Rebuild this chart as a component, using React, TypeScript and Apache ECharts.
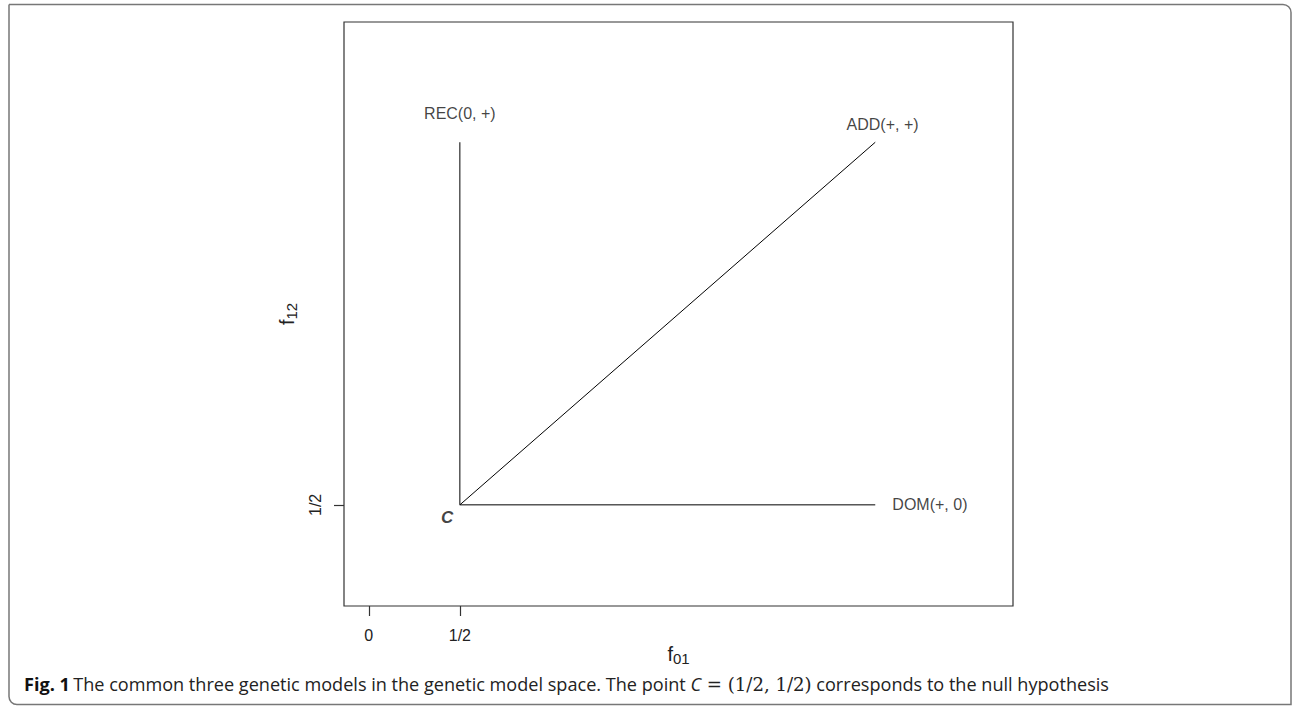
import React, { useEffect, useRef } from "react";
import * as echarts from "echarts";

const modelNames = ["REC(0, +)", "ADD(+, +)", "DOM(+, 0)"];
const nullPoint = [0.5, 0.5];
const modelEnds = [
  [0.5, 2.78],
  [2.78, 2.78],
  [2.78, 0.5],
];
const modelLabelPos = [
  [0.5, 2.96],
  [2.82, 2.89],
  [3.08, 0.5],
];
const nullLabel = "C";
const nullLabelPos = [0.43, 0.42];
const xTickValues = [0, 0.5];
const xTickLabels = ["0", "1/2"];
const yTickValues = [0.5];
const yTickLabels = ["1/2"];
const axisMin = -0.136;
const axisMax = 3.536;

export default function App() {
  const ref = useRef<HTMLDivElement>(null);
  useEffect(() => {
    if (!ref.current) return;
    const chart = echarts.init(ref.current, null, { renderer: "svg" });
    const fmt = (vals: number[], labs: string[]) => (v: number) => {
      const i = vals.findIndex((x) => Math.abs(x - v) < 1e-9);
      return i >= 0 ? labs[i] : "";
    };
    const lineSeries = modelEnds.map((e, i) => ({
      type: "line",
      name: modelNames[i],
      data: [nullPoint, e],
      symbol: "none",
      lineStyle: { color: "#000", width: 1 },
      silent: true,
    }));
    const nameRich = {
      f: { fontSize: 20, fontFamily: "Liberation Sans", color: "#222" },
      s: {
        fontSize: 15,
        fontFamily: "Liberation Sans",
        color: "#222",
        verticalAlign: "bottom",
        padding: [9, 0, 0, 0],
      },
    };
    const option = {
      animation: false,
      backgroundColor: "#fff",
      grid: {
        left: 344,
        top: 22,
        width: 669,
        height: 584,
        show: true,
        borderColor: "#333",
        borderWidth: 1.2,
        backgroundColor: "transparent",
      },
      xAxis: {
        type: "value",
        min: axisMin,
        max: axisMax,
        splitLine: { show: false },
        axisLine: { show: false, onZero: false },
        axisTick: {
          show: true,
          length: 10,
          customValues: xTickValues,
          lineStyle: { color: "#333", width: 1.2 },
        },
        axisLabel: {
          customValues: xTickValues,
          formatter: fmt(xTickValues, xTickLabels),
          margin: 21,
          color: "#222",
          fontSize: 16,
          fontFamily: "Liberation Sans",
        },
        name: "{f|f}{s|01}",
        nameLocation: "middle",
        nameGap: 36,
        nameMoveOverlap: false,
        nameTextStyle: { rich: nameRich },
      },
      yAxis: {
        type: "value",
        min: axisMin,
        max: axisMax,
        splitLine: { show: false },
        axisLine: { show: false, onZero: false },
        axisTick: {
          show: true,
          length: 10,
          customValues: yTickValues,
          lineStyle: { color: "#333", width: 1.2 },
        },
        axisLabel: {
          customValues: yTickValues,
          formatter: fmt(yTickValues, yTickLabels),
          margin: 21,
          rotate: 90,
          color: "#222",
          fontSize: 16,
          fontFamily: "Liberation Sans",
        },
        name: "{f|f}{s|12}",
        nameLocation: "middle",
        nameGap: 42,
        nameRotate: 90,
        nameTextStyle: { rich: nameRich },
      },
      series: [
        ...lineSeries,
        {
          type: "scatter",
          symbolSize: 1,
          itemStyle: { color: "rgba(0,0,0,0)" },
          silent: true,
          label: {
            show: true,
            position: "inside",
            formatter: "{b}",
            color: "#111",
            fontSize: 16,
            fontFamily: "Liberation Sans",
          },
          data: modelLabelPos.map((p, i) => ({ name: modelNames[i], value: p })),
        },
        {
          type: "scatter",
          symbolSize: 1,
          itemStyle: { color: "rgba(0,0,0,0)" },
          silent: true,
          label: {
            show: true,
            position: "inside",
            formatter: "{b}",
            color: "#111",
            fontSize: 17,
            fontWeight: "bold",
            fontStyle: "italic",
            fontFamily: "Liberation Sans",
          },
          data: [{ name: nullLabel, value: nullLabelPos }],
        },
      ],
      graphic: [
        {
          type: "rect",
          shape: { x: 9, y: 4.5, width: 1282, height: 700, r: [0, 8, 0, 8] },
          style: { fill: "none", stroke: "#777", lineWidth: 1.5 },
          silent: true,
        },
        {
          type: "text",
          left: 24,
          top: 675,
          style: {
            text:
              "{b|Fig. 1} {n|The common three genetic models in the genetic model space. The point }{i|C}{m| = (1/2, 1/2)}{n| corresponds to the null hypothesis}",
            rich: {
              b: { fontFamily: "Open Sans", fontWeight: "bold", fontSize: 18.1, fill: "#111" },
              n: { fontFamily: "Open Sans", fontSize: 18.1, fill: "#222" },
              i: { fontFamily: "Open Sans", fontStyle: "italic", fontSize: 18.1, fill: "#222" },
              m: { fontFamily: "DejaVu Serif", fontSize: 18.1, fill: "#222" },
            },
          },
        },
      ],
    };
    chart.setOption(option as any);
    return () => chart.dispose();
  }, []);
  return (
    <div
      ref={ref}
      style={{ position: "fixed", left: 0, top: 0, width: 1294, height: 712 }}
    />
  );
}
